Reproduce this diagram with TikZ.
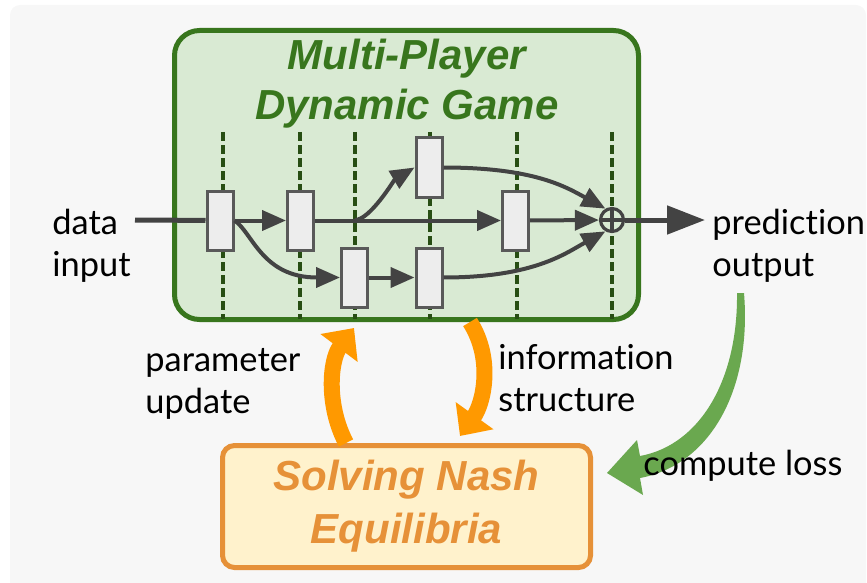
\documentclass[tikz,border=0pt]{standalone}
\usepackage{fontspec}
\setmainfont{Lato}[Ligatures=NoCommon]
\newfontfamily\headfont{Liberation Sans}
\usetikzlibrary{arrows.meta}

\definecolor{bggray}{HTML}{F7F7F7}
\definecolor{gamefill}{HTML}{D9EAD3}
\definecolor{gameline}{HTML}{38761D}
\definecolor{stageline}{HTML}{274E13}
\definecolor{blkfill}{HTML}{EDEDED}
\definecolor{blkline}{HTML}{595959}
\definecolor{flowgray}{HTML}{434343}
\definecolor{nashfill}{HTML}{FFF2CC}
\definecolor{nashline}{HTML}{E69138}
\definecolor{loopor}{HTML}{FF9900}
\definecolor{lossgreen}{HTML}{6AA84F}

\begin{document}
\begin{tikzpicture}[x=0.5pt,y=-0.5pt,
  blk/.style={draw=blkline,fill=blkfill,line width=1.5pt,minimum width=13pt,minimum height=29.5pt,inner sep=0pt},
  flow/.style={draw=flowgray,line width=2pt,-{Triangle[length=12pt,width=10pt]}},
  stage/.style={draw=stageline,line width=2pt,dash pattern=on 4.5pt off 2pt},
  lbl/.style={anchor=west,align=left,inner sep=0pt,font=\fontsize{17.2pt}{21pt}\selectfont},
  head/.style={align=center,inner sep=0pt,font=\headfont\bfseries\itshape\fontsize{21pt}{25pt}\selectfont},
  loop/.style={draw=loopor,line width=8pt,-{Triangle[length=12.5pt,width=22.5pt]}}]
\useasboundingbox (0,0) rectangle (867,583);
\fill[bggray,rounded corners=5pt] (10,5) rectangle (866,600);

% game box
\node[draw=gameline,fill=gamefill,line width=2.5pt,rounded corners=12.5pt,
  minimum width=232pt,minimum height=144.5pt] (game) at (406.5,175) {};
\node[head,text=gameline] (gtitle) at (407,84) {Multi-Player\\Dynamic Game};

\foreach \dx in {223,300,355,430,517,612}
  \draw[stage] (\dx,132) -- (\dx,319);

% players
\node[blk] (b1) at (220,220.5) {};
\node[blk] (b2) at (300.5,220.5) {};
\node[blk] (b3) at (429,167.5) {};
\node[blk] (b4) at (515.5,220.5) {};
\node[blk] (b5) at (354.5,277.5) {};
\node[blk] (b6) at (429,277.5) {};
\node[circle,draw=flowgray,fill=gamefill,line width=1.6pt,minimum size=11.5pt,inner sep=0pt,
  path picture={\draw[flowgray,line width=1.6pt] (path picture bounding box.north) -- (path picture bounding box.south)
    (path picture bounding box.west) -- (path picture bounding box.east);}] (sum) at (612,220) {};

\path (135,220) coordinate (intail) (705,220) coordinate (outtip) (355,220) coordinate (split);

\draw[flowgray,line width=2.5pt] (intail) -- (b1);
\draw[flow] (b1) -- (b2);
\draw[flow] (b1.east) .. controls +(18,12) and +(-78,0) .. (b5.west);
\draw[flow] (b2) -- (b4);
\draw[flow] (split) .. controls +(15,0) and +(-20,12) .. (b3.west);
\draw[flow] (b5) -- (b6);
\draw[flow] (b3.east) .. controls +(90,0) and +(-40,-22) .. (sum.120);
\draw[flow] (b4) -- (sum);
\draw[flow] (b6.east) .. controls +(90,0) and +(-40,22) .. (sum.240);
\draw[flowgray,line width=2.5pt,-{Triangle[length=19pt,width=14pt]}] (sum) -- (outtip);

% solver box
\node[draw=nashline,fill=nashfill,line width=2.5pt,rounded corners=6pt,
  minimum width=184pt,minimum height=61pt,head,text=nashline,font=\headfont\bfseries\itshape\fontsize{21pt}{26.5pt}\selectfont] (nash) at (406.5,506.5) {Solving Nash\\Equilibria};

% loops
\path (346,443) coordinate (updfoot) (354,328) coordinate (updtip)
  (470,322) coordinate (infofoot) (460,436) coordinate (infotip);
\draw[loop] (updfoot) .. controls (326,405) and (330,360) .. (updtip);
\draw[loop] (infofoot) .. controls (494,360) and (483,404) .. (infotip);
\fill[lossgreen] (737,293) .. controls (738,380) and (700,445) .. (640,456)
  -- (637,440) -- (607,473) -- (643,495) -- (640,478)
  .. controls (710,465) and (752,390) .. (744,293) -- cycle;

% labels
\node[lbl] (inlbl) at (52,245.5) {data\\input};
\node[lbl] (outlbl) at (712,245.5) {prediction\\output};
\node[lbl] (updlbl) at (145,384) {parameter\\update};
\node[lbl] (infolbl) at (498,378.5) {information\\structure};
\node[lbl] (losslbl) at (643,465.5) {compute loss};
\end{tikzpicture}
\end{document}
